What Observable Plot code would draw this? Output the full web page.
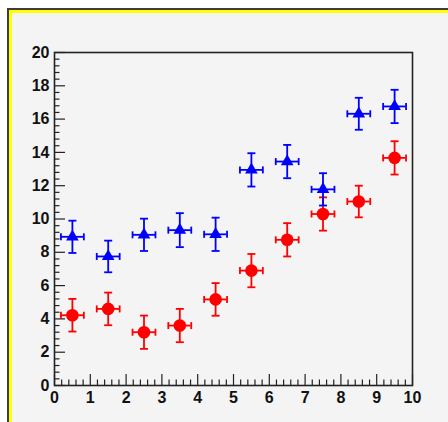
<!DOCTYPE html>
<html><head><meta charset="utf-8">
<script src="https://cdn.jsdelivr.net/npm/d3@7"></script>
<script src="https://cdn.jsdelivr.net/npm/@observablehq/plot@0.6"></script>
<style>
html,body{margin:0;padding:0;background:#fff;overflow:hidden;width:448px;height:422px}
#canvas{position:absolute;left:7px;top:8px;width:460px;height:440px;border-left:2px solid #3c3c3c;border-top:2px solid #3c3c3c;background:#ffff00}
#pad{position:absolute;left:3px;top:3px;right:0;bottom:0;background:#f4f4f4}
#chart{position:absolute;left:0;top:0}
</style></head><body>
<div id="canvas"><div id="pad"></div></div>
<div id="chart"></div>
<script>
const xVals = [0.5, 1.5, 2.5, 3.5, 4.5, 5.5, 6.5, 7.5, 8.5, 9.5];
const xErr = [0.32, 0.32, 0.32, 0.32, 0.32, 0.32, 0.32, 0.32, 0.32, 0.32];
const blueY = [8.93, 7.75, 9.05, 9.33, 9.08, 12.95, 13.45, 11.78, 16.32, 16.76];
const blueEy = [0.97, 0.95, 0.97, 1.02, 1.0, 1.0, 1.0, 0.97, 0.96, 1.0];
const redY = [4.22, 4.6, 3.2, 3.6, 5.17, 6.9, 8.75, 10.3, 11.05, 13.67];
const redEy = [0.98, 0.98, 1.0, 1.0, 0.98, 1.0, 1.0, 1.0, 0.95, 1.0];
const xMajor = [0, 1, 2, 3, 4, 5, 6, 7, 8, 9, 10];
const yMajor = [0, 2, 4, 6, 8, 10, 12, 14, 16, 18, 20];

const xMinor = d3.range(0, 10.0001, 0.2).map(v => +v.toFixed(2)).filter(v => !xMajor.includes(v));
const yMinor = d3.range(0, 20.0001, 0.4).map(v => +v.toFixed(2)).filter(v => !yMajor.includes(v));

const blue = xVals.map((x, i) => ({x, y: blueY[i], ex: xErr[i], ey: blueEy[i]}));
const red = xVals.map((x, i) => ({x, y: redY[i], ex: xErr[i], ey: redEy[i]}));

const W = 448, H = 422, mL = 54, mR = 36, mT = 52, mB = 37;
const pw = W - mL - mR, ph = H - mT - mB;

const hcap = {draw(ctx) { ctx.moveTo(-4, 0); ctx.lineTo(4, 0); }};
const vcap = {draw(ctx) { ctx.moveTo(0, -3.5); ctx.lineTo(0, 3.5); }};

function series(data, color, symbol, r) {
  return [
    Plot.ruleX(data, {x: "x", y1: d => d.y - d.ey, y2: d => d.y + d.ey, stroke: color, strokeWidth: 1.8}),
    Plot.ruleY(data, {y: "y", x1: d => d.x - d.ex, x2: d => d.x + d.ex, stroke: color, strokeWidth: 1.8}),
    Plot.dot(data, {x: "x", y: d => d.y + d.ey, symbol: hcap, stroke: color, fill: "none", strokeWidth: 1.8}),
    Plot.dot(data, {x: "x", y: d => d.y - d.ey, symbol: hcap, stroke: color, fill: "none", strokeWidth: 1.8}),
    Plot.dot(data, {x: d => d.x - d.ex, y: "y", symbol: vcap, stroke: color, fill: "none", strokeWidth: 1.8}),
    Plot.dot(data, {x: d => d.x + d.ex, y: "y", symbol: vcap, stroke: color, fill: "none", strokeWidth: 1.8}),
    Plot.dot(data, {x: "x", y: "y", symbol, r, fill: color, stroke: "none"})
  ];
}

const chart = Plot.plot({
  width: W, height: H,
  marginLeft: mL, marginRight: mR, marginTop: mT, marginBottom: mB,
  style: {background: "transparent", fontFamily: "'Liberation Sans', Arial, sans-serif", color: "#111"},
  x: {domain: [0, 10]},
  y: {domain: [0, 20]},
  marks: [
    Plot.ruleX(xMajor, {x: d => d, insetTop: ph - 11, stroke: "#222", strokeWidth: 1.2}),
    Plot.ruleX(xMinor, {x: d => d, insetTop: ph - 5.5, stroke: "#222", strokeWidth: 1.2}),
    Plot.ruleY(yMajor, {y: d => d, insetRight: pw - 11, stroke: "#222", strokeWidth: 1.2}),
    Plot.ruleY(yMinor, {y: d => d, insetRight: pw - 5.5, stroke: "#222", strokeWidth: 1.2}),
    Plot.frame({stroke: "#222", strokeWidth: 1.6}),
    Plot.axisX({ticks: xMajor, tickSize: 0, tickPadding: 6, fontSize: 16, fontWeight: "bold", tickFormat: d3.format("d"), label: null}),
    Plot.axisY({ticks: yMajor, tickSize: 0, tickPadding: 5, fontSize: 16, fontWeight: "bold", tickFormat: d3.format("d"), label: null}),
    ...series(red, "#ff0000", "circle", 6.3),
    ...series(blue, "#0000ff", "triangle", 4.7)
  ]
});
document.getElementById("chart").appendChild(chart);
</script>
</body></html>
